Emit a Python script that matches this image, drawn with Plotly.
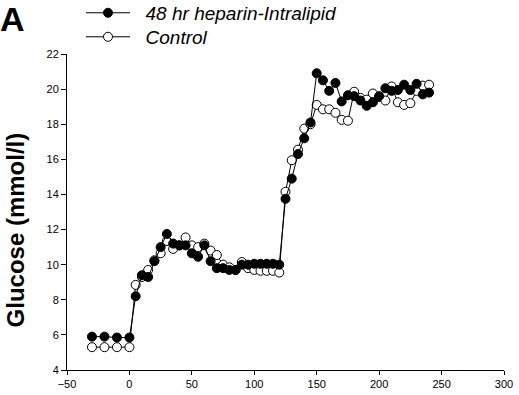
import plotly.graph_objects as go

time_min = [-30, -20, -10, 0, 5, 10, 15, 20, 25, 30, 35, 40, 45, 50, 55, 60, 65, 70, 75, 80,
            85, 90, 95, 100, 105, 110, 115, 120, 125, 130, 135, 140, 145, 150, 155, 160,
            165, 170, 175, 180, 185, 190, 195, 200, 205, 210, 215, 220, 225, 230, 235, 240]

heparin_intralipid = [5.9, 5.9, 5.85, 5.85, 8.2, 9.4, 9.3, 10.2, 11.0, 11.75, 11.2, 11.1, 11.1,
                      10.65, 10.45, 11.1, 10.2, 9.8, 9.8, 9.7, 9.7, 10.0, 10.0, 10.05, 10.05,
                      10.05, 10.05, 10.0, 13.75, 14.9, 16.3, 17.2, 18.1, 20.9, 20.5, 19.9,
                      20.35, 19.3, 19.65, 19.6, 19.35, 19.05, 19.25, 19.6, 20.05, 19.9, 19.95,
                      20.25, 19.95, 20.3, 19.7, 19.8]

control = [5.3, 5.3, 5.3, 5.3, 8.85, 9.3, 9.7, 10.25, 10.65, 11.35, 10.9, 11.1, 11.55, 11.1,
           11.0, 11.2, 10.8, 10.55, 10.0, 9.85, 9.7, 10.15, 9.8, 9.7, 9.65, 9.65, 9.65, 9.55,
           14.15, 15.95, 16.55, 17.75, 18.0, 19.1, 18.85, 18.85, 18.65, 18.25, 18.2, 19.85,
           19.5, 19.4, 19.75, 19.55, 19.35, 20.15, 19.25, 19.1, 19.2, 19.9, 20.2, 20.25]

series_names = ["48 hr heparin-Intralipid", "Control"]
x_ticks = [-50, 0, 50, 100, 150, 200, 250, 300]
y_ticks = [4, 6, 8, 10, 12, 14, 16, 18, 20, 22]

NB = "\u00a0\u00a0"

fig = go.Figure()
fig.add_trace(go.Scatter(
    x=time_min, y=control, mode="lines+markers", name=NB + series_names[1], legend="legend2",
    line=dict(color="black", width=1),
    marker=dict(symbol="circle", size=9, color="white", line=dict(color="black", width=1)),
))
fig.add_trace(go.Scatter(
    x=time_min, y=heparin_intralipid, mode="lines+markers", name=NB + series_names[0],
    legend="legend",
    line=dict(color="black", width=1),
    marker=dict(symbol="circle", size=9, color="black", line=dict(color="black", width=1)),
))

axis_font = dict(family="Liberation Sans, Arial, sans-serif", size=11, color="black")
legend_font = dict(family="Liberation Sans, Arial, sans-serif", size=19, color="black",
                   style="italic")
fig.update_layout(
    width=519, height=395,
    margin=dict(l=67, r=15, t=54, b=25, autoexpand=False),
    paper_bgcolor="white", plot_bgcolor="white",
    showlegend=True,
    legend=dict(x=0.032, y=1.130, xanchor="left", yanchor="middle", font=legend_font,
                bgcolor="rgba(0,0,0,0)", itemwidth=44),
    legend2=dict(x=0.032, y=1.054, xanchor="left", yanchor="middle", font=legend_font,
                 bgcolor="rgba(0,0,0,0)", itemwidth=44),
    xaxis=dict(
        range=[-50, 300], tickvals=x_ticks, ticks="outside", ticklen=4,
        showline=True, linecolor="black", linewidth=1, showgrid=False, zeroline=False,
        tickfont=axis_font, tickcolor="black",
    ),
    yaxis=dict(
        range=[4, 22], tickvals=y_ticks, ticks="outside", ticklen=5,
        showline=True, linecolor="black", linewidth=1, showgrid=False, zeroline=False,
        tickfont=axis_font, tickcolor="black",
    ),
    annotations=[
        dict(text="<b>Glucose (mmol/l)</b>", textangle=-90, xref="paper", yref="paper",
             x=-0.118, y=0.443, xanchor="center", yanchor="middle", showarrow=False,
             font=dict(family="Liberation Sans, Arial, sans-serif", size=24, color="black")),
        dict(text="<b>A</b>", xref="paper", yref="paper", x=-0.157, y=1.11,
             xanchor="left", yanchor="middle", showarrow=False,
             font=dict(family="Liberation Sans, Arial, sans-serif", size=34, color="black")),
    ],
)

fig.write_html("out.html", config={"displayModeBar": False},
               post_script="document.body.style.margin='0';")
